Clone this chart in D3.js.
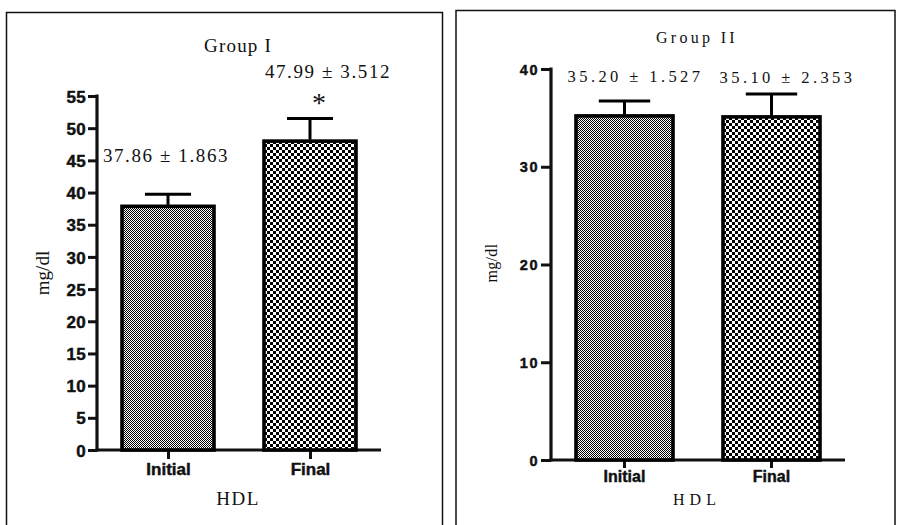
<!DOCTYPE html>
<html>
<head>
<meta charset="utf-8">
<script src="https://cdn.jsdelivr.net/npm/d3@7/dist/d3.min.js"></script>
<style>
  html, body { margin: 0; padding: 0; background: #fff; }
  svg { display: block; }
  .serif { font-family: "Liberation Serif", "Times New Roman", serif; fill: #111; }
  .sans { font-family: "Liberation Sans", Arial, sans-serif; font-weight: bold; fill: #111;
          stroke: #111; stroke-width: 0.45px; }
</style>
</head>
<body>
<svg id="chart" width="897" height="525"></svg>
<script>
// HDL (mg/dl), mean and SEM per time point
const categories = ["Initial", "Final"];
const group1Mean = [37.86, 47.99];
const group1Sem = [1.863, 3.512];
const group2Mean = [35.20, 35.10];
const group2Sem = [1.527, 2.353];
const group1Ticks = [0, 5, 10, 15, 20, 25, 30, 35, 40, 45, 50, 55];
const group2Ticks = [0, 10, 20, 30, 40];
const group1Marks = ["", "*"];

const svg = d3.select("#chart");
const defs = svg.append("defs");

// fine and coarse checkerboard fills
function checker(id, cell) {
  const p = defs.append("pattern").attr("id", id)
    .attr("patternUnits", "userSpaceOnUse")
    .attr("width", cell * 2).attr("height", cell * 2);
  p.append("rect").attr("width", cell * 2).attr("height", cell * 2).attr("fill", "#fff")
    .attr("shape-rendering", "crispEdges");
  p.append("rect").attr("width", cell).attr("height", cell).attr("fill", "#000")
    .attr("shape-rendering", "crispEdges");
  p.append("rect").attr("x", cell).attr("y", cell).attr("width", cell).attr("height", cell)
    .attr("fill", "#000").attr("shape-rendering", "crispEdges");
}
checker("fine", 1);
checker("coarse", 3);
const fills = ["url(#fine)", "url(#coarse)"];

function panel(cfg) {
  const g = svg.append("g");
  // frame
  g.append("rect")
    .attr("x", cfg.frame[0]).attr("y", cfg.frame[1])
    .attr("width", cfg.frame[2]).attr("height", 600)
    .attr("fill", "none").attr("stroke", "#111").attr("stroke-width", 1.5);

  const y = d3.scaleLinear().domain([0, cfg.max]).range([cfg.y0, cfg.y1]);
  const x = d3.scaleBand().domain(categories)
    .range([cfg.x0, cfg.x1]).paddingInner(cfg.pad).paddingOuter(cfg.pad / 2).round(true);

  // y axis
  const ya = g.append("g").attr("transform", `translate(${cfg.x0},0)`)
    .call(d3.axisLeft(y).tickValues(cfg.ticks).tickSize(cfg.tickLen).tickPadding(2).tickSizeOuter(0));
  ya.select(".domain").attr("stroke", "#111").attr("stroke-width", 3.2)
    .attr("d", `M0,${cfg.y0 + 1.5}V${y(cfg.max) - 1.5}`);
  ya.selectAll(".tick line").attr("stroke", "#111").attr("stroke-width", 3);
  ya.selectAll(".tick text").attr("class", "sans")
    .style("font-size", cfg.tickFont + "px").style("letter-spacing", cfg.tickSpacing + "px")
    .attr("dy", "0.36em");

  // x axis
  const xa = g.append("g").attr("transform", `translate(0,${cfg.y0})`)
    .call(d3.axisBottom(x).tickSize(cfg.xTickLen).tickPadding(cfg.xPad).tickSizeOuter(0));
  xa.select(".domain").attr("stroke", "#111").attr("stroke-width", 3.2)
    .attr("d", `M${cfg.x0 - 1.5},0H${cfg.x1}`);
  xa.selectAll(".tick line").attr("stroke", "#111").attr("stroke-width", 3);
  xa.selectAll(".tick text").attr("class", "sans")
    .style("font-size", cfg.xFont + "px");

  // bars
  g.selectAll(".bar").data(cfg.mean).join("rect")
    .attr("x", (d, i) => x(categories[i]))
    .attr("y", d => y(d))
    .attr("width", x.bandwidth())
    .attr("height", d => y(0) - y(d))
    .attr("fill", (d, i) => fills[i])
    .attr("stroke", "#000").attr("stroke-width", 3.6);

  // error bars (upper)
  const cap = x.bandwidth() * cfg.capFrac;
  cfg.mean.forEach((m, i) => {
    const cx = x(categories[i]) + x.bandwidth() / 2;
    g.append("line").attr("x1", cx).attr("x2", cx)
      .attr("y1", y(m) - 1.5).attr("y2", y(m + cfg.sem[i]))
      .attr("stroke", "#000").attr("stroke-width", 3);
    g.append("line").attr("x1", cx - cap / 2).attr("x2", cx + cap / 2)
      .attr("y1", y(m + cfg.sem[i])).attr("y2", y(m + cfg.sem[i]))
      .attr("stroke", "#000").attr("stroke-width", 3);
    // mean ± SEM label
    g.append("text").attr("class", "serif")
      .attr("x", cx + cfg.labelDx[i]).attr("y", cfg.labelY[i])
      .attr("text-anchor", "middle")
      .style("font-size", cfg.labelFont + "px").style("letter-spacing", cfg.labelSpacing + "px")
      .text(`${m.toFixed(2)} ± ${cfg.sem[i].toFixed(3)}`);
    if (cfg.marks && cfg.marks[i]) {
      g.append("text").attr("class", "serif")
        .attr("x", cx + cfg.markDx).attr("y", cfg.markY)
        .attr("text-anchor", "middle")
        .style("font-size", cfg.markFont + "px")
        .text(cfg.marks[i]);
    }
  });

  // title
  g.append("text").attr("class", "serif")
    .attr("x", cfg.titleX).attr("y", cfg.titleY).attr("text-anchor", "middle")
    .style("font-size", cfg.titleFont + "px").style("letter-spacing", cfg.titleSpacing + "px")
    .text(cfg.title);
  // x title
  g.append("text").attr("class", "serif")
    .attr("x", cfg.titleX).attr("y", cfg.xTitleY).attr("text-anchor", "middle")
    .style("font-size", cfg.titleFont + "px").style("letter-spacing", cfg.xTitleSpacing + "px")
    .text("HDL");
  // y title
  g.append("text").attr("class", "serif")
    .attr("transform", `translate(${cfg.yTitleX},${cfg.yTitleY}) rotate(-90)`)
    .attr("text-anchor", "middle")
    .style("font-size", cfg.titleFont + "px").style("letter-spacing", cfg.yTitleSpacing + "px")
    .text("mg/dl");
}

panel({
  frame: [6.5, 12.5, 436],
  max: 55, ticks: group1Ticks, mean: group1Mean, sem: group1Sem, marks: group1Marks,
  x0: 97, x1: 381, y0: 450, y1: 96, pad: 0.35,
  tickLen: 9, tickFont: 17, tickSpacing: 0.3,
  xTickLen: 9, xPad: 4, xFont: 17,
  capFrac: 0.5,
  labelDx: [-2, 18], labelY: [162, 78], labelFont: 19, labelSpacing: 1.6,
  markDx: 9, markY: 112, markFont: 28,
  title: "Group I", titleX: 238, titleY: 52, titleFont: 19, titleSpacing: 1.2,
  xTitleY: 505, xTitleSpacing: 1.5,
  yTitleX: 49, yTitleY: 273, yTitleSpacing: 0
});

panel({
  frame: [456, 10.5, 439],
  max: 40, ticks: group2Ticks, mean: group2Mean, sem: group2Sem, marks: null,
  x0: 551, x1: 845, y0: 460, y1: 69, pad: 0.34,
  tickLen: 10, tickFont: 14.5, tickSpacing: 1.5,
  xTickLen: 8, xPad: 3, xFont: 16,
  capFrac: 0.53,
  labelDx: [11, 16], labelY: [82, 83], labelFont: 16.5, labelSpacing: 3.4,
  title: "Group II", titleX: 697, titleY: 43, titleFont: 16, titleSpacing: 3.3,
  xTitleY: 505, xTitleSpacing: 5,
  yTitleX: 497, yTitleY: 263, yTitleSpacing: 0.3
});
</script>
</body>
</html>
